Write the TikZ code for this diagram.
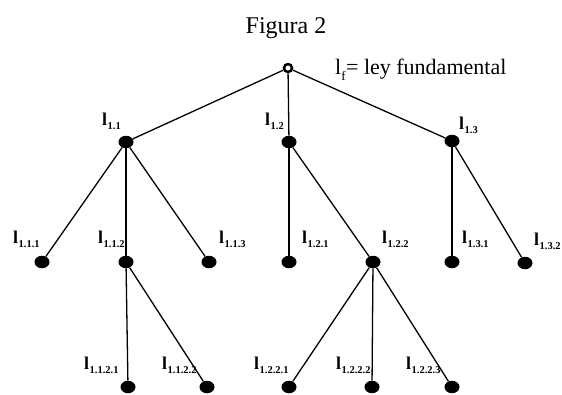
\documentclass[tikz,border=0pt]{standalone}
\usepackage{fontspec}
\setmainfont{Liberation Serif}
\usetikzlibrary{shapes.geometric}

% label with a lowered subscript
\newcommand{\lsub}[1]{\textbf{l}\kern0.5pt\raisebox{-4pt}{\fontsize{10.5}{10.5}\selectfont\bfseries #1}}

\begin{document}
\begin{tikzpicture}[x=1pt, y=-1pt,
    bullet/.style={ellipse, fill=black, minimum width=15pt, minimum height=12.5pt, inner sep=0pt},
    rootdot/.style={circle, draw=black, fill=white, line width=2.5pt, minimum size=8pt, inner sep=0pt},
    lab/.style={anchor=base west, inner sep=0pt, font=\fontsize{18}{18}\selectfont},
    branch/.style={draw=black, line width=1.3pt}
  ]
  \useasboundingbox (0,0) rectangle (562,394);

  % title and legend
  \node[anchor=base, inner sep=0pt, font=\fontsize{24}{24}\selectfont] (title) at (286,33) {Figura 2};
  \node[anchor=base west, inner sep=0pt, font=\fontsize{22}{22}\selectfont] (legend) at (335,74)
    {l\raisebox{-6pt}{\fontsize{13}{13}\selectfont f}\kern0.5pt= ley fundamental};

  % laws
  \node[bullet] (n11)   at (126,142) {};
  \node[bullet] (n12)   at (289,142) {};
  \node[bullet] (n13)   at (452,141) {};
  \node[bullet] (n111)  at (42,262)  {};
  \node[bullet] (n112)  at (126,262) {};
  \node[bullet] (n113)  at (209,262) {};
  \node[bullet] (n121)  at (289,262) {};
  \node[bullet] (n122)  at (373,262) {};
  \node[bullet] (n131)  at (452,262) {};
  \node[bullet] (n132)  at (525,263) {};
  \node[bullet] (n1121) at (128,387) {};
  \node[bullet] (n1122) at (207,387) {};
  \node[bullet] (n1221) at (289,387) {};
  \node[bullet] (n1222) at (372,387) {};
  \node[bullet] (n1223) at (452,387) {};

  % branches
  \foreach \a/\b in {n11/n111, n11/n112, n11/n113, n12/n121, n12/n122,
                     n13/n131, n13/n132, n112/n1121, n112/n1122,
                     n122/n1221, n122/n1222, n122/n1223}
    \draw[branch] (\a) -- (\b);
  \node[rootdot] (root) at (288,68) {};
  \foreach \b in {n11, n12, n13}
    \draw[branch] (root) -- (\b);

  % labels
  \node[lab] (t11)   at (102,125) {\lsub{1.1}};
  \node[lab] (t12)   at (265,125) {\lsub{1.2}};
  \node[lab] (t13)   at (459,129) {\lsub{1.3}};
  \node[lab] (t111)  at (13,243)  {\lsub{1.1.1}};
  \node[lab] (t112)  at (98,243)  {\lsub{1.1.2}};
  \node[lab] (t113)  at (219,243) {\lsub{1.1.3}};
  \node[lab] (t121)  at (302,243) {\lsub{1.2.1}};
  \node[lab] (t122)  at (382,243) {\lsub{1.2.2}};
  \node[lab] (t131)  at (462,243) {\lsub{1.3.1}};
  \node[lab] (t132)  at (534,245) {\lsub{1.3.2}};
  \node[lab] (t1121) at (84,369)  {\lsub{1.1.2.1}};
  \node[lab] (t1122) at (162,369) {\lsub{1.1.2.2}};
  \node[lab] (t1221) at (254,369) {\lsub{1.2.2.1}};
  \node[lab] (t1222) at (336,369) {\lsub{1.2.2.2}};
  \node[lab] (t1223) at (406,369) {\lsub{1.2.2.3}};
\end{tikzpicture}
\end{document}
